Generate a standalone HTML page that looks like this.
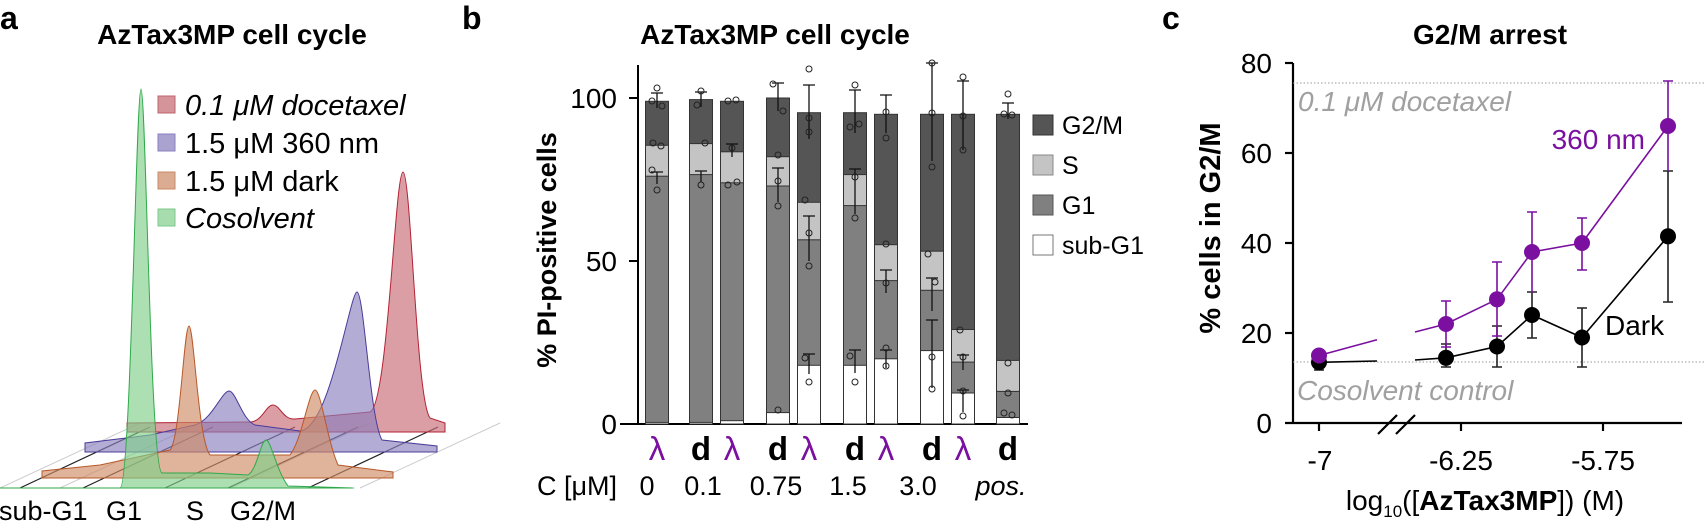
<!DOCTYPE html>
<html><head><meta charset="utf-8"><style>
html,body{margin:0;padding:0;background:#fff;width:1704px;height:522px;overflow:hidden}
svg{display:block;font-family:"Liberation Sans",Arial,sans-serif}
</style></head><body>
<svg width="1704" height="522" viewBox="0 0 1704 522" xmlns="http://www.w3.org/2000/svg">
<g font-weight="bold" fill="#000">
<text x="0" y="29" font-size="32">a</text>
<text x="462" y="29" font-size="32">b</text>
<text x="1162" y="29" font-size="32">c</text>
<text x="232" y="44" font-size="28" text-anchor="middle">AzTax3MP cell cycle</text>
<text x="775" y="44" font-size="28" text-anchor="middle">AzTax3MP cell cycle</text>
<text x="1490" y="44" font-size="28" text-anchor="middle">G2/M arrest</text>
</g>

<!-- ===== Panel a ===== -->
<g>
<g stroke="#ccc" stroke-width="1">
<line x1="0" y1="488" x2="140" y2="423"/><line x1="60" y1="488" x2="200" y2="423"/>
<line x1="230" y1="488" x2="370" y2="423"/><line x1="360" y1="488" x2="500" y2="423"/>
<line x1="0" y1="488" x2="355" y2="488"/>
</g>
<g stroke="#222" stroke-width="1.2">
<line x1="20" y1="488" x2="150" y2="427"/><line x1="83" y1="488" x2="213" y2="427"/>
<line x1="165" y1="488" x2="295" y2="427"/><line x1="228" y1="488" x2="358" y2="427"/>
<line x1="308" y1="488" x2="438" y2="427"/>
</g>
<path d="M127,432 L127,423 L250,422 C262,422 266,405 273,405 C280,405 283,420 295,419 L370,412 C388,405 395,172 403,172 C411,172 416,400 430,418 L445,423 L445,432 L127,432Z" fill="#c86a74" fill-opacity="0.65" stroke="#b22234" stroke-width="1"/>
<path d="M85,452 L85,443 L150,435 L195,425 C212,420 222,391 229,391 C236,391 242,420 255,425 L300,431 C330,429 350,292 357,292 C364,292 370,420 382,440 L437,446 L437,452 L85,452Z" fill="#8a7fbd" fill-opacity="0.65" stroke="#4b3b99" stroke-width="1"/>
<path d="M42,478 L42,471 L100,465 L170,450 C180,440 184,326 189,326 C194,326 198,440 210,455 L290,455 C302,440 309,390 315,390 C321,390 327,440 338,465 L393,472 L393,478 L42,478Z" fill="#cf8c66" fill-opacity="0.65" stroke="#b8582a" stroke-width="1"/>
<path d="M0,488 L120,488 C131,488 136,89 141,89 C146,89 150,470 162,473 L210,473 L248,475 C257,470 261,440 266,440 C271,440 276,470 288,486 L353,488 Z" fill="#7fcf8a" fill-opacity="0.65" stroke="#2fa84a" stroke-width="1"/>
<rect x="158" y="96" width="17" height="17" fill="#d4949a" stroke="#c06470"/>
<rect x="158" y="134" width="17" height="17" fill="#aaa2cf" stroke="#8a80c0"/>
<rect x="158" y="172" width="17" height="17" fill="#dbac92" stroke="#c88a6a"/>
<rect x="158" y="209" width="17" height="17" fill="#a7dcae" stroke="#7cc88a"/>
<g font-size="29" fill="#000">
<text x="185" y="115" font-style="italic">0.1 μM docetaxel</text>
<text x="185" y="153">1.5 μM 360 nm</text>
<text x="185" y="191">1.5 μM dark</text>
<text x="185" y="228" font-style="italic">Cosolvent</text>
</g>
<g font-size="27" fill="#000">
<text x="-1" y="520">sub-G1</text>
<text x="106" y="520">G1</text>
<text x="186" y="520">S</text>
<text x="230" y="520">G2/M</text>
</g>
</g>

<!-- ===== Panel b ===== -->
<g>
<text transform="translate(556,250) rotate(-90)" font-size="27" font-weight="bold" text-anchor="middle">% PI-positive cells</text>
<g font-size="28" text-anchor="end"><text x="617" y="108">100</text><text x="617" y="271">50</text><text x="617" y="434">0</text></g>
<g stroke="#000" stroke-width="2"><line x1="638" y1="65" x2="638" y2="425"/><line x1="629" y1="98" x2="638" y2="98"/><line x1="629" y1="261" x2="638" y2="261"/><line x1="620" y1="424" x2="1028" y2="424"/></g>
<g stroke="#333" stroke-width="1">
<g transform="translate(657,0)"><rect x="-11.5" y="101.3" width="23" height="322.7" fill="#555"/><rect x="-11.5" y="145.3" width="23" height="278.7" fill="#c4c4c4"/><rect x="-11.5" y="176.2" width="23" height="247.8" fill="#808080"/><rect x="-11.5" y="422.4" width="23" height="1.6" fill="#fff"/></g>
<g transform="translate(701,0)"><rect x="-11.5" y="99.6" width="23" height="324.4" fill="#555"/><rect x="-11.5" y="143.6" width="23" height="280.4" fill="#c4c4c4"/><rect x="-11.5" y="174.6" width="23" height="249.4" fill="#808080"/><rect x="-11.5" y="422.4" width="23" height="1.6" fill="#fff"/></g>
<g transform="translate(732,0)"><rect x="-11.5" y="101.3" width="23" height="322.7" fill="#555"/><rect x="-11.5" y="151.8" width="23" height="272.2" fill="#c4c4c4"/><rect x="-11.5" y="182.8" width="23" height="241.2" fill="#808080"/><rect x="-11.5" y="420.7" width="23" height="3.3" fill="#fff"/></g>
<g transform="translate(778,0)"><rect x="-11.5" y="98" width="23" height="326" fill="#555"/><rect x="-11.5" y="156.7" width="23" height="267.3" fill="#c4c4c4"/><rect x="-11.5" y="186" width="23" height="238" fill="#808080"/><rect x="-11.5" y="412.6" width="23" height="11.4" fill="#fff"/></g>
<g transform="translate(809,0)"><rect x="-11.5" y="112.7" width="23" height="311.3" fill="#555"/><rect x="-11.5" y="202.3" width="23" height="221.7" fill="#c4c4c4"/><rect x="-11.5" y="239.8" width="23" height="184.2" fill="#808080"/><rect x="-11.5" y="365.3" width="23" height="58.7" fill="#fff"/></g>
<g transform="translate(855,0)"><rect x="-11.5" y="112.7" width="23" height="311.3" fill="#555"/><rect x="-11.5" y="174.6" width="23" height="249.4" fill="#c4c4c4"/><rect x="-11.5" y="205.6" width="23" height="218.4" fill="#808080"/><rect x="-11.5" y="365.3" width="23" height="58.7" fill="#fff"/></g>
<g transform="translate(886,0)"><rect x="-11.5" y="114.3" width="23" height="309.7" fill="#555"/><rect x="-11.5" y="244.7" width="23" height="179.3" fill="#c4c4c4"/><rect x="-11.5" y="280.6" width="23" height="143.4" fill="#808080"/><rect x="-11.5" y="358.8" width="23" height="65.2" fill="#fff"/></g>
<g transform="translate(932,0)"><rect x="-11.5" y="114.3" width="23" height="309.7" fill="#555"/><rect x="-11.5" y="251.2" width="23" height="172.8" fill="#c4c4c4"/><rect x="-11.5" y="290.3" width="23" height="133.7" fill="#808080"/><rect x="-11.5" y="350.6" width="23" height="73.4" fill="#fff"/></g>
<g transform="translate(963,0)"><rect x="-11.5" y="114.3" width="23" height="309.7" fill="#555"/><rect x="-11.5" y="329.5" width="23" height="94.5" fill="#c4c4c4"/><rect x="-11.5" y="362.1" width="23" height="61.9" fill="#808080"/><rect x="-11.5" y="393" width="23" height="31" fill="#fff"/></g>
<g transform="translate(1008,0)"><rect x="-11.5" y="114.3" width="23" height="309.7" fill="#555"/><rect x="-11.5" y="360.4" width="23" height="63.6" fill="#c4c4c4"/><rect x="-11.5" y="391.4" width="23" height="32.6" fill="#808080"/><rect x="-11.5" y="417.5" width="23" height="6.5" fill="#fff"/></g>
</g>
<g stroke="#111" stroke-width="1.3" fill="none">
<path d="M657,93V108M651,93H663M701,92V107M695,92H707M778,83V111M772,83H784M809,85V139M803,85H815M855,90V133M849,90H861M886,95V133M880,95H892M932,63V161M926,63H938M963,81V150M957,81H969M1008,103V119M1002,103H1014"/>
<path d="M657,172V184M651,172H663M701,171V182M695,171H707M732,144V157M726,144H738M778,168V202M772,168H784M809,216V261M803,216H815M855,169V214M849,169H861M886,270V293M880,270H892M932,278V311M926,278H938M963,355V370M957,355H969"/>
<path d="M809,354V374M803,354H815M855,350V373M849,350H861M886,350V368M880,350H892M932,320V388M926,320H938M963,390V412M957,390H969"/>
</g>
<g fill="none" stroke="#222" stroke-width="1">
<circle cx="657" cy="88" r="3"/><circle cx="652" cy="101" r="3"/><circle cx="662" cy="106" r="3"/><circle cx="653" cy="143" r="3"/><circle cx="661" cy="146" r="3"/><circle cx="657" cy="190" r="3"/><circle cx="652" cy="170" r="3"/>
<circle cx="701" cy="91" r="3"/><circle cx="697" cy="105" r="3"/><circle cx="705" cy="143" r="3"/><circle cx="701" cy="185" r="3"/>
<circle cx="728" cy="101" r="3"/><circle cx="736" cy="100" r="3"/><circle cx="732" cy="148" r="3"/><circle cx="728" cy="185" r="3"/><circle cx="737" cy="182" r="3"/>
<circle cx="773" cy="84" r="3"/><circle cx="783" cy="111" r="3"/><circle cx="778" cy="155" r="3"/><circle cx="778" cy="181" r="3"/><circle cx="778" cy="206" r="3"/><circle cx="778" cy="410" r="3"/>
<circle cx="809" cy="69" r="3"/><circle cx="809" cy="118" r="3"/><circle cx="809" cy="132" r="3"/><circle cx="805" cy="200" r="3"/><circle cx="809" cy="233" r="3"/><circle cx="809" cy="266" r="3"/><circle cx="805" cy="358" r="3"/><circle cx="809" cy="382" r="3"/>
<circle cx="855" cy="85" r="3"/><circle cx="850" cy="127" r="3"/><circle cx="859" cy="124" r="3"/><circle cx="855" cy="177" r="3"/><circle cx="855" cy="218" r="3"/><circle cx="850" cy="356" r="3"/><circle cx="855" cy="382" r="3"/>
<circle cx="886" cy="112" r="3"/><circle cx="886" cy="138" r="3"/><circle cx="886" cy="244" r="3"/><circle cx="886" cy="283" r="3"/><circle cx="886" cy="348" r="3"/><circle cx="886" cy="366" r="3"/>
<circle cx="932" cy="63" r="3"/><circle cx="932" cy="113" r="3"/><circle cx="932" cy="167" r="3"/><circle cx="928" cy="254" r="3"/><circle cx="935" cy="282" r="3"/><circle cx="932" cy="357" r="3"/><circle cx="932" cy="389" r="3"/>
<circle cx="963" cy="77" r="3"/><circle cx="963" cy="116" r="3"/><circle cx="963" cy="150" r="3"/><circle cx="960" cy="330" r="3"/><circle cx="963" cy="357" r="3"/><circle cx="963" cy="391" r="3"/><circle cx="963" cy="416" r="3"/>
<circle cx="1008" cy="94" r="3"/><circle cx="1004" cy="114" r="3"/><circle cx="1012" cy="115" r="3"/><circle cx="1008" cy="363" r="3"/><circle cx="1008" cy="393" r="3"/><circle cx="1004" cy="413" r="3"/><circle cx="1012" cy="415" r="3"/>
</g>
<rect x="1033" y="115" width="20" height="20" fill="#555" stroke="#333"/>
<rect x="1033" y="155" width="20" height="20" fill="#c4c4c4" stroke="#888"/>
<rect x="1033" y="195" width="20" height="20" fill="#808080" stroke="#555"/>
<rect x="1033" y="235" width="20" height="20" fill="#fff" stroke="#777"/>
<g font-size="25"><text x="1062" y="134">G2/M</text><text x="1062" y="174">S</text><text x="1062" y="214">G1</text><text x="1062" y="254">sub-G1</text></g>
<g font-size="33" font-weight="bold" text-anchor="middle">
<text x="657" y="460" fill="#7a0fa0" font-weight="normal">λ</text>
<text x="701" y="460">d</text><text x="732" y="460" fill="#7a0fa0" font-weight="normal">λ</text>
<text x="778" y="460">d</text><text x="809" y="460" fill="#7a0fa0" font-weight="normal">λ</text>
<text x="855" y="460">d</text><text x="886" y="460" fill="#7a0fa0" font-weight="normal">λ</text>
<text x="932" y="460">d</text><text x="963" y="460" fill="#7a0fa0" font-weight="normal">λ</text>
<text x="1008" y="460">d</text>
</g>
<g font-size="27" text-anchor="middle">
<text x="577" y="495">C [μM]</text><text x="647" y="495">0</text><text x="703" y="495">0.1</text><text x="776" y="495">0.75</text><text x="848" y="495">1.5</text><text x="918" y="495">3.0</text><text x="1001" y="495" font-style="italic">pos.</text>
</g>
</g>

<!-- ===== Panel c ===== -->
<g>
<text transform="translate(1220,228) rotate(-90)" font-size="29" font-weight="bold" text-anchor="middle">% cells in G2/M</text>
<g font-size="28" text-anchor="end"><text x="1272" y="433">0</text><text x="1272" y="343">20</text><text x="1272" y="253">40</text><text x="1272" y="163">60</text><text x="1272" y="73">80</text></g>
<g stroke="#000" stroke-width="2.2">
<line x1="1293" y1="63" x2="1293" y2="424"/><line x1="1285" y1="423" x2="1682" y2="423"/>
<line x1="1285" y1="63" x2="1293" y2="63"/><line x1="1285" y1="153" x2="1293" y2="153"/><line x1="1285" y1="243" x2="1293" y2="243"/><line x1="1285" y1="333" x2="1293" y2="333"/>
<line x1="1319" y1="423" x2="1319" y2="431"/><line x1="1461" y1="423" x2="1461" y2="431"/><line x1="1603" y1="423" x2="1603" y2="431"/>
<line x1="1378" y1="434" x2="1397" y2="415"/><line x1="1396" y1="434" x2="1415" y2="415"/>
</g>
<g font-size="28" text-anchor="middle"><text x="1320" y="470">-7</text><text x="1461" y="470">-6.25</text><text x="1603" y="470">-5.75</text></g>
<text x="1485" y="510" font-size="28" text-anchor="middle">log<tspan font-size="17" dy="7">10</tspan><tspan dy="-7">([</tspan><tspan font-weight="bold">AzTax3MP</tspan>]) (M)</text>
<g stroke="#999" stroke-width="1" stroke-dasharray="1.5,2"><line x1="1293" y1="83" x2="1704" y2="83"/><line x1="1293" y1="362" x2="1704" y2="362"/></g>
<g fill="#a0a0a0" font-size="28" font-style="italic"><text x="1298" y="111">0.1 μM docetaxel</text><text x="1297" y="400">Cosolvent control</text></g>
<g stroke="#222" stroke-width="1.6"><path d="M1319,365V370M1314,370H1324M1446,344V367M1441,344H1451M1441,367H1451M1497,326V367M1492,326H1502M1492,367H1502M1532,292V338M1527,292H1537M1527,338H1537M1582,308V367M1577,308H1587M1577,367H1587M1668,171V302M1663,171H1673M1663,302H1673"/></g>
<g stroke="#7a0fa0" stroke-width="1.6"><path d="M1446,301V347M1441,301H1451M1441,347H1451M1497,262V336M1492,262H1502M1492,336H1502M1532,212V293M1527,212H1537M1582,218V270M1577,218H1587M1577,270H1587M1668,81V171M1663,81H1673"/></g>
<polyline points="1319,362.3 1377,361" fill="none" stroke="#000" stroke-width="1.6"/>
<polyline points="1415,360 1446,357.8 1497,346.5 1532,315 1582,337.5 1668,236.3" fill="none" stroke="#000" stroke-width="1.6"/>
<polyline points="1319,355.5 1377,339.75" fill="none" stroke="#7a0fa0" stroke-width="1.6"/>
<polyline points="1415,332 1446,324 1497,299.3 1532,252 1582,243 1668,126" fill="none" stroke="#7a0fa0" stroke-width="1.6"/>
<g fill="#000"><circle cx="1319" cy="362.3" r="8"/><circle cx="1446" cy="357.8" r="8"/><circle cx="1497" cy="346.5" r="8"/><circle cx="1532" cy="315" r="8"/><circle cx="1582" cy="337.5" r="8"/><circle cx="1668" cy="236.3" r="8"/></g>
<g fill="#7a0fa0"><circle cx="1319" cy="355.5" r="8"/><circle cx="1446" cy="324" r="8"/><circle cx="1497" cy="299.3" r="8"/><circle cx="1532" cy="252" r="8"/><circle cx="1582" cy="243" r="8"/><circle cx="1668" cy="126" r="8"/></g>
<text x="1645" y="149" font-size="28" fill="#7a0fa0" text-anchor="end">360 nm</text>
<text x="1605" y="335" font-size="28" fill="#000">Dark</text>
</g>
</svg>
</body></html>
